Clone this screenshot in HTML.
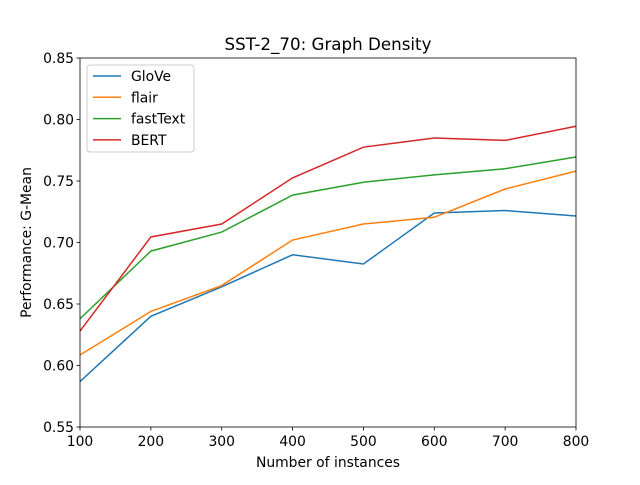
<!DOCTYPE html>
<html><head><meta charset="utf-8"><style>
body{margin:0;background:#fff;}
svg text{font-family:"DejaVu Sans","Liberation Sans",sans-serif;}
</style></head><body>
<svg id="chart" width="640" height="480" xmlns="http://www.w3.org/2000/svg">
<rect width="640" height="480" fill="#fff"/>
<g id="plot"></g>
</svg>
<script>
const categories=[100,200,300,400,500,600,700,800];
const seriesNames=["GloVe","flair","fastText","BERT"];
const glove=[0.587,0.640,0.664,0.690,0.6825,0.724,0.726,0.7215];
const flair=[0.6085,0.644,0.665,0.702,0.715,0.7205,0.7435,0.758];
const fasttext=[0.638,0.693,0.7085,0.7385,0.749,0.755,0.760,0.7695];
const bert=[0.628,0.7045,0.715,0.7525,0.7775,0.785,0.783,0.7945];
const xTicks=[100,200,300,400,500,600,700,800];
const yTicks=[0.55,0.60,0.65,0.70,0.75,0.80,0.85];
const colors=["#1f77b4","#ff7f0e","#2ca02c","#d62728"];
const L=80,R=576,T=58,B=427;
const xs=v=>L+(v-100)/700*(R-L);
const ys=v=>B-(v-0.55)/0.30*(B-T);
const svg=document.getElementById('plot');
const NS="http://www.w3.org/2000/svg";
function mk(t,a,txt){const e=document.createElementNS(NS,t);for(const k in a)e.setAttribute(k,a[k]);if(txt!==undefined)e.textContent=txt;svg.appendChild(e);return e;}
const data=[glove,flair,fasttext,bert];
data.forEach((d,i)=>{
  const p=mk('polyline',{points:d.map((v,j)=>xs(categories[j])+','+ys(v)).join(' '),fill:'none',stroke:colors[i],'stroke-width':1.5});
  
  
});
const frame=mk('rect',{x:L,y:T,width:R-L,height:B-T,fill:'none',stroke:'#000','stroke-width':0.8});


xTicks.forEach(v=>{
  mk('line',{x1:xs(v),x2:xs(v),y1:B,y2:B+3.5,stroke:'#000','stroke-width':0.8});
  const t=mk('text',{x:xs(v),y:B+19,'text-anchor':'middle','font-size':13.9},String(v));
  
  
});
yTicks.forEach(v=>{
  mk('line',{x1:L-3.5,x2:L,y1:ys(v),y2:ys(v),stroke:'#000','stroke-width':0.8});
  const t=mk('text',{x:L-6,y:ys(v)+5,'text-anchor':'end','font-size':13.9},v.toFixed(2));
  
  
});
const title=mk('text',{x:(L+R)/2,y:50,'text-anchor':'middle','font-size':16.7},'SST-2_70: Graph Density');


const xt=mk('text',{x:(L+R)/2,y:467,'text-anchor':'middle','font-size':13.9},'Number of instances');


const yt=mk('text',{x:0,y:0,'text-anchor':'middle','font-size':13.9,transform:'translate(31,'+((T+B)/2)+') rotate(-90)'},'Performance: G-Mean');


const lg=mk('rect',{x:87,y:65,width:107,height:87,rx:3,fill:'#fff',stroke:'#ccc','stroke-width':1});


seriesNames.forEach((n,i)=>{
  const y=76+i*21.3;
  mk('line',{x1:93,x2:121,y1:y,y2:y,stroke:colors[i],'stroke-width':1.5});
  const t=mk('text',{x:131,y:y+5,'font-size':13.9},n);
  
  
});
</script>
</body></html>
